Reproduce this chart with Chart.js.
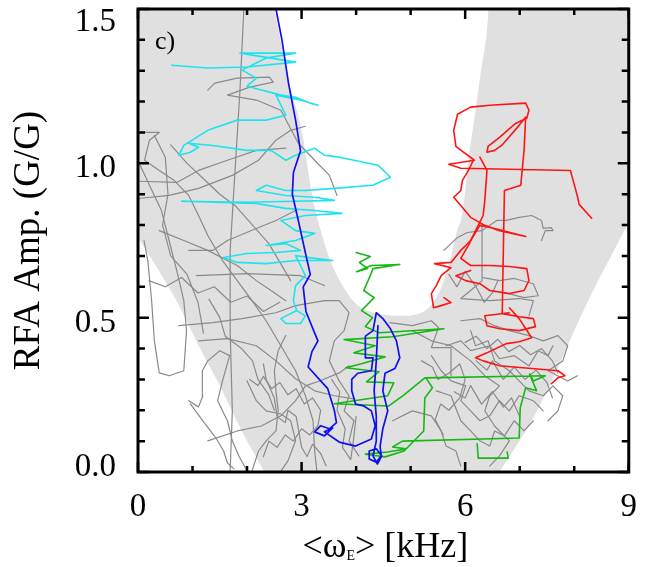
<!DOCTYPE html>
<html><head><meta charset="utf-8">
<script src="https://cdn.jsdelivr.net/npm/chart.js@4.4.1/dist/chart.umd.min.js"></script>
<style>html,body{margin:0;padding:0;background:#fff;overflow:hidden}#wrap{width:653px;height:567px;position:relative}</style>
</head><body><div id="wrap"><canvas id="c" width="653" height="567"></canvas></div>
<script>
// ---------- axes ----------
const xTickValues = [0, 3, 6, 9];
const xTickLabels = ['0', '3', '6', '9'];
const xMinorTicks = [0, 1, 2, 3, 4, 5, 6, 7, 8, 9];
const yTickValues = [0, 0.5, 1.0, 1.5];
const yTickLabels = ['0.0', '0.5', '1.0', '1.5'];
const yMinorTicks = [0, 0.1, 0.2, 0.3, 0.4, 0.5, 0.6, 0.7, 0.8, 0.9, 1.0, 1.1, 1.2, 1.3, 1.4, 1.5];
const xAxisTitle = ['<ω', 'E', '> [kHz]'];
const yAxisTitle = 'RFA Amp. (G/G)';
const panelLabel = 'c)';

// ---------- shaded band edges [kHz, G/G] ----------
const bandInnerEdge = [[2.50,1.50],[2.76,1.27],[3.01,1.10],[3.19,0.90],[3.37,0.77],[3.55,0.675],[3.80,0.59],[4.03,0.54],[4.35,0.515],[4.85,0.506],[5.33,0.532],[5.56,0.597],[5.72,0.685],[5.85,0.78],[5.95,0.84],[6.06,1.01],[6.19,1.17],[6.29,1.30],[6.40,1.43],[6.43,1.50]];
const bandOuterLeft = [[0,0.76],[0.39,0.65],[0.75,0.54],[1.11,0.41],[1.50,0.28],[1.91,0.13],[2.32,0]];
const bandOuterRight = [[6.63,0],[7.22,0.166],[7.61,0.302],[8.00,0.458],[8.41,0.61],[8.73,0.718],[9.0,0.81]];

// ---------- coloured trajectories ----------
const cyanTrace = [[0.62,1.318],[1.28,1.309],[2.00,1.312],[2.89,1.328],[1.87,1.357],[2.89,1.357],[2.35,1.341],[1.91,1.302],[2.17,1.276],[2.00,1.25],[2.62,1.221],[2.89,1.214],[3.16,1.195],[3.30,1.188],[2.98,1.205],[2.53,1.221],[2.71,1.156],[2.35,1.14],[1.82,1.14],[1.28,1.107],[0.84,1.058],[0.75,1.026],[0.96,1.036],[1.11,1.052],[0.93,1.065],[1.37,1.058],[2.00,1.042],[2.44,1.042],[2.71,1.01],[2.89,1.026],[3.24,1.049],[3.42,1.026],[3.69,1.02],[3.96,1.01],[4.40,0.994],[4.63,0.955],[4.31,0.929],[3.60,0.919],[3.07,0.912],[2.71,0.912],[2.35,0.929],[2.17,0.912],[2.71,0.896],[3.24,0.89],[3.60,0.88],[2.89,0.877],[2.00,0.874],[0.80,0.877],[2.17,0.87],[2.71,0.854],[3.24,0.847],[3.74,0.838],[3.07,0.831],[2.62,0.815],[2.89,0.782],[3.24,0.773],[2.89,0.75],[2.35,0.734],[2.71,0.74],[2.98,0.718],[2.53,0.711],[2.00,0.708],[1.57,0.695],[1.82,0.679],[2.35,0.675],[2.89,0.685],[3.57,0.685],[3.24,0.692],[2.89,0.701],[2.98,0.669],[3.07,0.636],[2.89,0.604],[2.85,0.555],[2.91,0.523],[2.62,0.497],[2.71,0.481],[2.98,0.481],[3.07,0.506],[2.91,0.523]];

const blueTrace = [[2.53,1.50],[2.64,1.40],[2.76,1.26],[2.89,1.14],[2.98,1.04],[2.85,0.97],[2.83,0.90],[2.94,0.815],[3.07,0.71],[3.16,0.64],[3.03,0.60],[3.08,0.52],[3.24,0.45],[3.30,0.425],[3.19,0.39],[3.12,0.34],[3.30,0.305],[3.48,0.27],[3.60,0.20],[3.64,0.16],[3.51,0.14],[3.35,0.15],[3.24,0.13],[3.42,0.117],[3.57,0.143],[3.42,0.13],[3.69,0.097],[3.99,0.084],[4.28,0.107],[4.35,0.15],[4.28,0.198],[4.14,0.214],[3.99,0.22],[3.92,0.263],[3.92,0.30],[4.03,0.32],[4.28,0.328],[4.31,0.37],[4.17,0.37],[4.17,0.44],[4.31,0.458],[4.37,0.516],[4.49,0.497],[4.63,0.464],[4.74,0.425],[4.80,0.37],[4.71,0.335],[4.53,0.32],[4.49,0.263],[4.58,0.198],[4.49,0.14],[4.44,0.084],[4.46,0.052],[4.37,0.032],[4.24,0.042],[4.24,0.068],[4.37,0.075],[4.47,0.052],[4.39,0.026],[4.31,0.052],[4.37,0.10],[4.37,0.18],[4.33,0.263],[4.37,0.36],[4.40,0.474]];

const greenTraceA = [[4.00,0.711],[4.26,0.698],[4.06,0.679],[4.21,0.659],[4.01,0.649],[4.28,0.669],[4.80,0.672],[4.31,0.659],[4.26,0.636],[4.14,0.588],[4.33,0.565],[4.10,0.523],[4.30,0.50],[4.17,0.471],[4.42,0.451],[5.61,0.464],[4.67,0.438],[3.78,0.429],[4.35,0.409],[3.96,0.386],[4.53,0.373],[4.10,0.351],[3.81,0.338],[4.42,0.325],[4.19,0.292],[4.69,0.289],[4.58,0.247],[3.60,0.221],[4.60,0.214],[4.88,0.25],[5.26,0.305],[7.47,0.312],[7.25,0.295],[7.18,0.318],[7.31,0.263],[7.11,0.273],[7.01,0.208],[6.99,0.11],[4.85,0.10],[4.67,0.081],[4.92,0.075],[4.58,0.065],[4.17,0.058],[4.53,0.049],[4.88,0.068],[5.24,0.133],[5.26,0.24],[5.40,0.273],[5.28,0.305]];
const greenTraceB = [[6.22,0.091],[6.24,0.045],[6.79,0.045],[6.77,0.065]];

const redTraceA = [[8.32,0.822],[8.09,0.867],[8.06,0.893],[7.93,0.977],[5.92,0.984],[5.70,0.997],[6.17,1.01],[5.95,1.039],[5.83,1.055],[5.79,1.107],[5.86,1.159],[6.10,1.182],[6.45,1.188],[7.11,1.195],[7.17,1.172],[7.13,1.146],[6.93,1.13],[6.63,1.084],[6.42,1.055],[6.40,1.036],[6.54,1.042],[6.67,1.058],[6.99,1.123],[7.11,1.15],[7.08,1.042],[7.02,0.929],[6.72,0.912],[6.70,0.718],[6.68,0.513],[6.99,0.503],[7.25,0.497],[7.29,0.471],[6.99,0.458],[6.63,0.464],[6.40,0.474],[6.36,0.506],[6.81,0.516]];
const redTraceB = [[6.15,1.01],[6.06,0.977],[5.95,0.945],[5.92,0.912],[5.79,0.89],[5.95,0.857],[6.10,0.825],[6.36,0.799],[6.63,0.782],[7.11,0.763],[6.54,0.789],[6.27,0.799],[6.10,0.75],[5.92,0.718],[5.74,0.679],[5.44,0.675],[5.74,0.662],[5.56,0.636],[5.47,0.604],[5.38,0.578],[5.42,0.532],[5.56,0.539],[5.74,0.549],[5.61,0.565]];
const redTraceC = [[6.27,1.02],[6.40,0.977],[6.36,0.88],[6.33,0.831],[6.19,0.782],[6.06,0.734],[5.92,0.692],[6.10,0.669],[6.45,0.669],[6.81,0.666],[7.13,0.659],[7.17,0.62],[7.08,0.588],[6.81,0.578],[6.45,0.588],[6.27,0.61],[6.01,0.62],[5.83,0.636],[6.10,0.653]];
const redTraceD = [[6.81,0.532],[6.99,0.497],[7.22,0.435],[6.99,0.422],[6.76,0.416],[6.40,0.386],[6.19,0.37],[6.33,0.36],[6.63,0.344],[7.70,0.328],[7.83,0.312],[7.70,0.305],[7.58,0.286]];

// ---------- grey trajectories ----------
const grayTrace1 = [[1.94,1.497],[1.87,1.237],[1.78,0.977],[1.69,0.718],[1.69,0.458],[1.73,0.198],[1.69,0.003]];
const grayTrace2 = [[1.28,1.237],[1.41,1.26],[1.82,1.276],[2.41,1.279],[2.48,1.263],[2.05,1.247],[1.64,1.221],[2.17,1.205],[2.62,1.172],[2.94,1.065],[3.24,1.01],[3.51,0.961],[3.65,0.896]];
const grayTrace3 = [[0.04,1.10],[0.39,1.10],[0.21,1.075],[0.12,1.01],[0.39,0.977],[0.66,0.945],[0.93,0.896],[1.11,0.831],[1.28,0.766],[1.55,0.685],[1.82,0.62],[2.09,0.555],[2.35,0.49],[2.62,0.409],[2.89,0.328],[3.07,0.247],[3.21,0.166],[3.24,0.068],[3.28,0.003]];
const grayTrace4 = [[0,0.886],[0.57,0.896],[1.11,0.919],[1.73,0.961],[2.21,1.01],[2.53,1.075],[2.80,1.107],[3.07,1.12]];
const grayTrace5 = [[0.04,0.994],[0.21,0.929],[0.43,0.847],[0.57,0.75],[0.71,0.653],[0.84,0.555],[0.89,0.458],[0.84,0.328],[0.57,0.312],[0.39,0.321],[0.30,0.425],[0.25,0.555],[0.18,0.685],[0.11,0.75]];
const grayTrace6 = [[0.93,0.231],[1.11,0.211],[1.19,0.247],[1.18,0.328],[1.28,0.36],[1.50,0.393],[1.68,0.377],[1.55,0.295],[1.46,0.231],[1.64,0.166],[1.73,0.101],[1.85,0.052],[2.00,0.003]];
const grayTrace7 = [[0.96,0.221],[1.23,0.156],[1.43,0.11],[1.57,0.068],[1.64,0.029],[1.76,0.01]];
const grayTrace8 = [[0.75,0.474],[1.37,0.484],[1.91,0.497],[2.53,0.516],[2.89,0.539],[3.42,0.555]];
const grayTrace9 = [[1.11,0.425],[1.64,0.432],[2.17,0.409],[2.53,0.36],[2.89,0.302],[3.24,0.263],[3.60,0.247],[3.96,0.237]];
const grayTrace10 = [[2.00,0.295],[2.17,0.231],[2.35,0.198],[2.62,0.188],[2.80,0.166],[2.89,0.101],[2.75,0.036],[2.62,0.003]];
const grayTrace11 = [[1.28,0.101],[1.82,0.133],[2.26,0.149],[2.62,0.182],[2.89,0.231],[3.07,0.279],[3.33,0.295],[3.69,0.321],[3.87,0.344]];
const grayTrace12 = [[2.09,0.003],[2.21,0.068],[2.35,0.101],[2.53,0.133],[2.57,0.198],[2.53,0.263],[2.50,0.328],[2.57,0.393],[2.71,0.442]];
const grayTrace13 = [[0.39,0.782],[0.84,0.75],[1.28,0.718],[1.82,0.669],[2.17,0.62],[2.44,0.588],[2.71,0.555]];
const grayTrace14 = [[0.93,0.718],[1.37,0.718],[1.64,0.75],[2.17,0.789],[2.53,0.815],[2.89,0.847]];
const grayTrace15 = [[1.07,0.636],[2.00,0.643],[2.98,0.636],[3.42,0.604]];
const grayTrace16 = [[0,0.942],[0.71,0.938],[1.11,0.977],[1.64,1.01],[2.17,1.042],[2.71,1.049]];
const grayTrace17 = [[3.42,0.555],[3.69,0.555],[3.87,0.516],[3.78,0.458],[3.60,0.425],[3.51,0.36],[3.69,0.295],[3.87,0.247],[3.78,0.198],[3.96,0.166],[3.87,0.101],[4.05,0.052]];
const grayTrace18 = [[5.61,0.718],[5.86,0.76],[6.04,0.776],[6.31,0.782],[6.58,0.815],[6.76,0.815],[6.99,0.825],[7.22,0.831],[7.40,0.815],[7.43,0.789],[7.58,0.792],[7.61,0.782],[7.47,0.782],[7.40,0.75]];
const grayTrace19 = [[6.31,0.805],[6.31,0.718],[6.31,0.62],[6.10,0.588],[5.92,0.562],[6.45,0.555],[6.99,0.562],[7.25,0.555],[7.17,0.506]];
const grayTrace20 = [[5.92,0.49],[6.27,0.497],[6.54,0.474],[6.81,0.458],[7.17,0.442],[7.43,0.425],[7.70,0.442],[7.88,0.409],[7.79,0.36],[7.52,0.328],[7.88,0.295],[8.06,0.312]];
const grayTrace21 = [[5.65,0.409],[5.92,0.425],[6.10,0.393],[6.45,0.409],[6.63,0.367],[6.90,0.377],[7.17,0.344],[7.34,0.393],[7.52,0.377],[7.61,0.409]];
const grayTrace22 = [[5.38,0.377],[5.56,0.328],[5.74,0.295],[6.01,0.279],[5.92,0.231],[6.10,0.198],[6.27,0.166],[6.45,0.182],[6.63,0.231],[6.81,0.198],[6.99,0.247],[7.25,0.231],[7.43,0.198]];
const grayTrace23 = [[5.47,0.263],[5.74,0.247],[5.92,0.166],[6.10,0.133],[6.27,0.101],[6.45,0.084],[6.54,0.133],[6.72,0.117],[6.90,0.166],[7.08,0.133],[7.25,0.166]];
const grayTrace24 = [[6.10,0.458],[6.19,0.409],[6.42,0.425],[6.54,0.36],[6.81,0.328],[6.99,0.295],[7.17,0.263],[7.43,0.247],[7.61,0.279],[7.79,0.247],[7.70,0.198],[7.52,0.166]];
const grayTrace25 = [[5.03,0.458],[5.38,0.425],[5.74,0.409],[6.10,0.36],[6.36,0.312],[6.63,0.279],[6.45,0.247],[6.36,0.198],[6.54,0.149],[6.81,0.101],[6.63,0.052],[6.45,0.019]];
const grayTrace26 = [[4.62,0.484],[5.03,0.474],[5.38,0.49],[5.51,0.468],[5.38,0.403],[5.74,0.403],[5.74,0.312]];
const grayTrace27 = [[4.67,0.166],[5.03,0.198],[5.38,0.182],[5.56,0.133],[5.65,0.084],[5.83,0.068],[5.92,0.019]];
const grayTrace28 = [[6.33,0.63],[6.63,0.62],[6.90,0.627],[7.25,0.61],[7.34,0.571],[7.08,0.565],[6.72,0.581]];
const grayTrace29 = [[2.05,0.30],[2.20,0.28],[2.30,0.31],[2.45,0.27],[2.60,0.29],[2.75,0.25],[2.90,0.27],[3.05,0.22],[3.20,0.24],[3.35,0.20],[3.30,0.15],[3.15,0.12],[3.00,0.14],[2.85,0.10],[2.70,0.12],[2.55,0.08],[2.40,0.10],[2.30,0.05]];
const grayTrace30 = [[2.30,0.35],[2.35,0.30],[2.50,0.24],[2.55,0.18],[2.70,0.16],[2.75,0.20],[2.90,0.18],[3.00,0.08],[3.10,0.05],[3.20,0.09],[3.35,0.06],[3.45,0.02]];
const grayTrace31 = [[0.20,0.62],[0.50,0.60],[0.80,0.63],[1.10,0.58],[1.40,0.60],[1.70,0.55],[2.00,0.57],[2.30,0.52],[2.60,0.55]];
const grayTrace32 = [[0.60,1.06],[0.90,1.00],[1.20,0.95],[1.50,0.90],[1.80,0.86],[2.10,0.80],[2.40,0.74],[2.60,0.68],[2.80,0.62]];
const grayTrace33 = [[1.30,0.56],[1.50,0.50],[1.60,0.44],[1.90,0.40],[2.10,0.36],[2.20,0.30],[2.40,0.25],[2.50,0.20]];
const grayTrace34 = [[6.00,0.42],[6.20,0.44],[6.40,0.40],[6.60,0.43],[6.80,0.39],[7.00,0.41],[7.20,0.38],[7.40,0.40],[7.60,0.36],[7.70,0.32]];
const grayTrace35 = [[6.20,0.36],[6.40,0.33],[6.50,0.36],[6.70,0.30],[6.90,0.34],[7.10,0.30],[7.30,0.33],[7.50,0.29],[7.60,0.24]];
const grayTrace36 = [[5.80,0.26],[6.00,0.24],[6.10,0.28],[6.30,0.22],[6.50,0.26],[6.70,0.21],[6.85,0.24],[7.00,0.18]];
const grayTrace37 = [[5.20,0.36],[5.40,0.34],[5.50,0.30],[5.70,0.32],[5.90,0.35],[6.00,0.30],[5.90,0.24],[5.70,0.20],[5.55,0.22],[5.45,0.17],[5.60,0.12]];
const grayTrace38 = [[3.55,0.30],[3.70,0.26],[3.65,0.20],[3.80,0.14],[3.75,0.08],[3.90,0.04],[3.95,0.10],[4.00,0.18]];
const grayTrace39 = [[5.70,0.64],[5.85,0.60],[6.00,0.65],[6.20,0.60],[6.35,0.55],[6.50,0.58],[6.60,0.62]];
const grayTrace40 = [[0.30,1.09],[0.50,1.02],[0.55,0.90],[0.45,0.80],[0.60,0.70],[0.90,0.64],[1.10,0.55],[1.20,0.45]];

const grayTraces = [grayTrace1,grayTrace2,grayTrace3,grayTrace4,grayTrace5,grayTrace6,grayTrace7,grayTrace8,grayTrace9,grayTrace10,grayTrace11,grayTrace12,grayTrace13,grayTrace14,grayTrace15,grayTrace16,grayTrace17,grayTrace18,grayTrace19,grayTrace20,grayTrace21,grayTrace22,grayTrace23,grayTrace24,grayTrace25,grayTrace26,grayTrace27,grayTrace28,grayTrace29,grayTrace30,grayTrace31,grayTrace32,grayTrace33,grayTrace34,grayTrace35,grayTrace36,grayTrace37,grayTrace38,grayTrace39,grayTrace40];

// ---------- styles ----------
const BAND = '#e0e0e0';
const GRAY = '#8a8a8a';
const CYAN = '#1ee3ee';
const BLUE = '#1010ee';
const GREEN = '#16b816';
const RED = '#ff1414';
const SERIF = '"Liberation Serif", "DejaVu Serif", serif';

const pts = a => a.map(p => ({x: p[0], y: p[1]}));
const trace = (arr, color, w, order) => ({data: pts(arr), borderColor: color, borderWidth: w, showLine: true, pointRadius: 0, fill: false, order: order, borderJoinStyle: 'round', borderCapStyle: 'round'});
const bandFill = (arr, target) => ({data: pts(arr), borderWidth: 0, borderColor: 'rgba(0,0,0,0)', backgroundColor: '#ffffff', showLine: true, pointRadius: 0, fill: target, order: 100, cubicInterpolationMode: 'monotone'});

const datasets = [
  bandFill(bandInnerEdge, 'end'),
  bandFill(bandOuterLeft, 'start'),
  bandFill(bandOuterRight, 'start'),
  ...grayTraces.map(g => trace(g, GRAY, 1.2, 50)),
  trace(cyanTrace, CYAN, 1.6, 4),
  trace(greenTraceA, GREEN, 1.6, 3),
  trace(greenTraceB, GREEN, 1.6, 3),
  trace(redTraceA, RED, 1.6, 2),
  trace(redTraceB, RED, 1.6, 2),
  trace(redTraceC, RED, 1.6, 2),
  trace(redTraceD, RED, 1.6, 2),
  trace(blueTrace, BLUE, 1.7, 1)
];

const framePlugin = {
  id: 'frame',
  beforeDatasetsDraw(chart) {
    const {ctx, chartArea: a} = chart;
    ctx.save();
    ctx.fillStyle = BAND;
    ctx.fillRect(a.left, a.top, a.right - a.left, a.bottom - a.top);
    ctx.restore();
  },
  afterDatasetsDraw(chart) {
    const {ctx, chartArea: a, scales: {x, y}} = chart;
    ctx.save();
    ctx.strokeStyle = '#000';
    ctx.lineWidth = 2.5;
    ctx.lineCap = 'butt';
    xMinorTicks.forEach(v => {
      const px = x.getPixelForValue(v);
      const len = xTickValues.includes(v) ? 10 : 6;
      ctx.beginPath();
      ctx.moveTo(px, a.bottom); ctx.lineTo(px, a.bottom - len);
      ctx.moveTo(px, a.top); ctx.lineTo(px, a.top + len);
      ctx.stroke();
    });
    yMinorTicks.forEach(v => {
      const py = y.getPixelForValue(v);
      const len = yTickValues.some(t => Math.abs(t - v) < 1e-6) ? 11 : 7;
      ctx.beginPath();
      ctx.moveTo(a.left, py); ctx.lineTo(a.left + len, py);
      ctx.moveTo(a.right, py); ctx.lineTo(a.right - len, py);
      ctx.stroke();
    });
    ctx.lineWidth = 3;
    ctx.strokeRect(a.left, a.top, a.right - a.left, a.bottom - a.top);
    // y tick labels
    ctx.fillStyle = '#000';
    ctx.font = '33px ' + SERIF;
    ctx.textAlign = 'right';
    ctx.textBaseline = 'alphabetic';
    yTickValues.forEach((v, i) => {
      const py = y.getPixelForValue(v);
      let base = py + 14;
      base = Math.max(base, a.top + 22);
      base = Math.min(base, a.bottom + 4);
      ctx.fillText(yTickLabels[i], a.left - 22, base);
    });
    // panel label
    ctx.font = '26px ' + SERIF;
    ctx.textAlign = 'left';
    ctx.fillText(panelLabel, a.left + 17, a.top + 40);
    // x axis title with subscript
    const big = '36px ' + SERIF, small = '14px ' + SERIF;
    ctx.font = big; const w1 = ctx.measureText(xAxisTitle[0]).width;
    ctx.font = small; const w2 = ctx.measureText(xAxisTitle[1]).width;
    ctx.font = big; const w3 = ctx.measureText(xAxisTitle[2]).width;
    const total = w1 + w2 + w3;
    let sx = (a.left + a.right) / 2 + 2 - total / 2;
    const base = a.bottom + 85;
    ctx.font = big; ctx.fillText(xAxisTitle[0], sx, base); sx += w1;
    ctx.font = small; ctx.fillText(xAxisTitle[1], sx, base + 3); sx += w2;
    ctx.font = big; ctx.fillText(xAxisTitle[2], sx, base);
    ctx.restore();
  }
};

new Chart(document.getElementById('c'), {
  type: 'scatter',
  data: {datasets},
  options: {
    responsive: false,
    animation: false,
    events: [],
    layout: {padding: {top: 9, right: 10, left: 0, bottom: 0}},
    plugins: {legend: {display: false}, tooltip: {enabled: false}},
    scales: {
      x: {
        type: 'linear', min: 0, max: 9,
        grid: {display: false, drawTicks: false}, border: {display: false},
        ticks: {stepSize: 3, autoSkip: false, maxRotation: 0, padding: 16, color: '#000',
          font: {family: SERIF, size: 33},
          callback: (v) => { const i = xTickValues.indexOf(v); return i >= 0 ? xTickLabels[i] : ''; }},
        title: {display: false, text: '<ωE> [kHz]'},
        afterFit: (s) => { s.height = 95; }
      },
      y: {
        type: 'linear', min: 0, max: 1.5,
        grid: {display: false, drawTicks: false}, border: {display: false},
        ticks: {display: false, stepSize: 0.5,
          callback: (v) => { const i = yTickValues.findIndex(t => Math.abs(t - v) < 1e-6); return i >= 0 ? yTickLabels[i] : ''; }},
        title: {display: true, text: yAxisTitle, color: '#000', font: {family: SERIF, size: 37}, padding: {top: 7, bottom: 0}},
        afterFit: (s) => { s.width = 138; }
      }
    }
  },
  plugins: [framePlugin]
});
</script>
</body></html>
